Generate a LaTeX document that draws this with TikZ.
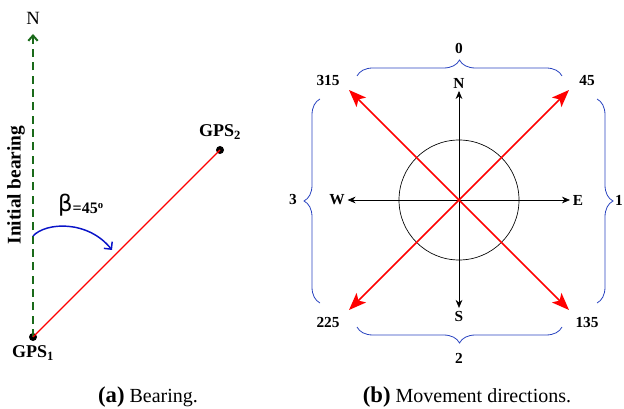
\documentclass[tikz,border=0pt]{standalone}
\usepackage{fontspec}
\setmainfont{Liberation Serif}
\newfontfamily\greekfont{DejaVu Sans}
\usetikzlibrary{arrows.meta,positioning,decorations.pathreplacing}
\definecolor{brgRed}{HTML}{FF0000}
\definecolor{brgGreen}{HTML}{1A6A1A}
\definecolor{brgBlue}{HTML}{0A14C8}
\definecolor{brgBrace}{HTML}{2A44C0}
\tikzset{
  brg north/.style={draw=brgGreen, line width=1.5pt, dash pattern=on 6pt off 4pt, -{Straight Barb[length=4pt,width=7pt]}},
  brg track/.style={draw=brgRed, line width=0.9pt},
  brg angle/.style={draw=brgBlue, line width=1.1pt, -{Straight Barb[length=4pt,width=8pt]}},
  brg dot/.style={circle, fill=black, minimum size=6pt, inner sep=0pt},
  brg label/.style={font=\fontsize{13.5}{15}\selectfont\bfseries},
  cmp axis/.style={draw=black, line width=0.5pt, -{Stealth[length=6pt,width=5pt]}},
  cmp move/.style={draw=brgRed, line width=1.1pt, -{Stealth[length=13pt,width=10pt,inset=3pt]}},
  cmp label/.style={font=\fontsize{11.5}{13}\selectfont\bfseries, inner sep=2pt},
  cmp brace/.style={draw=brgBrace, line width=0.6pt, decorate, decoration={brace, amplitude=12pt}},
  cap label/.style={font=\fontsize{15}{17}\selectfont},
}
\begin{document}
\begin{tikzpicture}[x=0.75pt, y=-0.75pt]
  \useasboundingbox (0,0) rectangle (624,409);
  % (a) Bearing
  \node[brg dot] (gps1) at (33,337) {};
  \node[brg dot] (gps2) at (220,150) {};
  \node[brg label, below=0pt of gps1] (gps1 label) {GPS\textsubscript{1}};
  \node[brg label, above=1pt of gps2] (gps2 label) {GPS\textsubscript{2}};
  \coordinate (north tip) at (33,34);
  \node[font=\fontsize{14}{16}\selectfont, inner sep=1pt] (north label) at (33,18) {N};
  \draw[brg north] (gps1.center) -- (north tip);
  \draw[brg track] (gps1.center) -- (gps2.center);
  \node[font=\fontsize{14.5}{16}\selectfont\bfseries, rotate=90] (bearing label) at (16,185) {Initial bearing};
  \coordinate (angle start) at (33,236);
  \coordinate (angle end) at (112,250);
  \draw[brg angle] (angle start) .. controls (46,222) and (88,220) .. (angle end);
  \node[inner sep=0pt] (beta label) at (81,205) {{\greekfont\fontsize{17}{18}\selectfont β}\raisebox{-2pt}{\fontsize{12}{13}\selectfont\bfseries =45\textsuperscript{o}}};
  % (b) Movement directions
  \coordinate (center) at (459,200);
  \draw[line width=0.5pt] (center) circle[radius=60];
  \node[cmp label] (lab N) at (459,83) {N};
  \node[cmp label] (lab S) at (459,316) {S};
  \node[cmp label] (lab W) at (337,200) {W};
  \node[cmp label] (lab E) at (578,200) {E};
  \draw[cmp axis] (center) -- (lab N);
  \draw[cmp axis] (center) -- (lab S);
  \draw[cmp axis] (center) -- (lab W);
  \draw[cmp axis] (center) -- (lab E);
  \coordinate (dir45) at (569,90);
  \coordinate (dir135) at (569,310);
  \coordinate (dir225) at (349,310);
  \coordinate (dir315) at (349,90);
  \foreach \d in {45,135,225,315} \draw[cmp move] (center) -- (dir\d);
  \node[cmp label] (lab 315) at (328,81) {315};
  \node[cmp label] (lab 45) at (587,81) {45};
  \node[cmp label] (lab 225) at (328,322) {225};
  \node[cmp label] (lab 135) at (587,322) {135};
  % Braces grouping the sectors
  \draw[cmp brace] (357,76) -- (562,76);
  \draw[cmp brace] (562,327) -- (357,327);
  \draw[cmp brace] (320,303) -- (320,99);
  \draw[cmp brace] (597,99) -- (597,303);
  \node[cmp label] (sector 0) at (459,48) {0};
  \node[cmp label] (sector 2) at (459,358) {2};
  \node[cmp label] (sector 3) at (293,200) {3};
  \node[cmp label] (sector 1) at (619,200) {1};
  % Captions
  \node[cap label] (cap a) at (148,397) {{\fontsize{17}{17}\selectfont\bfseries (a)} Bearing.};
  \node[cap label] (cap b) at (467,397) {{\fontsize{17}{17}\selectfont\bfseries (b)} Movement directions.};
\end{tikzpicture}
\end{document}
